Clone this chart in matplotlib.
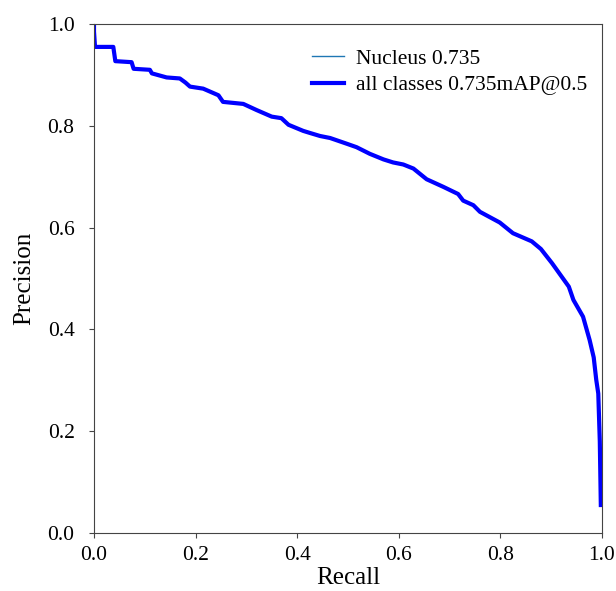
import matplotlib
matplotlib.use("Agg")
import matplotlib.pyplot as plt

plt.rcParams['font.family'] = ['Liberation Serif', 'DejaVu Serif']

# precision-recall curve
recall = [0.0, 0.0, 0.002, 0.038, 0.042, 0.074, 0.078, 0.11, 0.114, 0.143,
          0.169, 0.18, 0.189, 0.215, 0.245, 0.254, 0.294, 0.32, 0.35, 0.369,
          0.383, 0.412, 0.425, 0.445, 0.465, 0.497, 0.517, 0.543, 0.570, 0.589,
          0.609, 0.629, 0.655, 0.688, 0.717, 0.727, 0.747, 0.760, 0.799, 0.825,
          0.862, 0.880, 0.902, 0.935, 0.944, 0.963, 0.976, 0.984, 0.989, 0.993,
          0.996, 0.998]
precision = [1.0, 0.985, 0.955, 0.955, 0.927, 0.925, 0.912, 0.910, 0.903, 0.895,
             0.893, 0.885, 0.877, 0.873, 0.860, 0.847, 0.843, 0.831, 0.818, 0.815,
             0.802, 0.790, 0.786, 0.780, 0.776, 0.765, 0.758, 0.745, 0.734, 0.728,
             0.724, 0.716, 0.695, 0.680, 0.666, 0.653, 0.644, 0.631, 0.610, 0.589,
             0.573, 0.558, 0.530, 0.484, 0.458, 0.425, 0.379, 0.345, 0.301, 0.274,
             0.180, 0.055]

class_label = 'Nucleus 0.735'
all_label = 'all classes 0.735mAP@0.5'

fig = plt.figure(figsize=(6.16, 5.91), dpi=100)
ax = fig.add_axes([0.1526, 0.0981, 0.8244, 0.8613])

ax.plot(recall, precision, linewidth=1, color='#1f77b4', label=class_label)
ax.plot(recall, precision, linewidth=3, color='blue', label=all_label)

ax.set_xlim(0, 1)
ax.set_ylim(0, 1)
ax.set_xticks([0.0, 0.2, 0.4, 0.6, 0.8, 1.0])
ax.set_yticks([0.0, 0.2, 0.4, 0.6, 0.8, 1.0])
ax.tick_params(labelsize=15.5, color='#444444')
ax.tick_params(axis='y', pad=10.5)
ax.tick_params(axis='x', pad=6)
for s in ax.spines.values():
    s.set_color('#444444')
ax.set_xlabel('Recall', fontsize=18, labelpad=1.5)
ax.set_ylabel('Precision', fontsize=18, labelpad=9)
ax.legend(loc='upper right', bbox_to_anchor=(1.01, 0.99), frameon=False,
          fontsize=15.5, handlelength=1.5, handletextpad=0.55, labelspacing=0.3)

fig.savefig('out.png', dpi=100)
